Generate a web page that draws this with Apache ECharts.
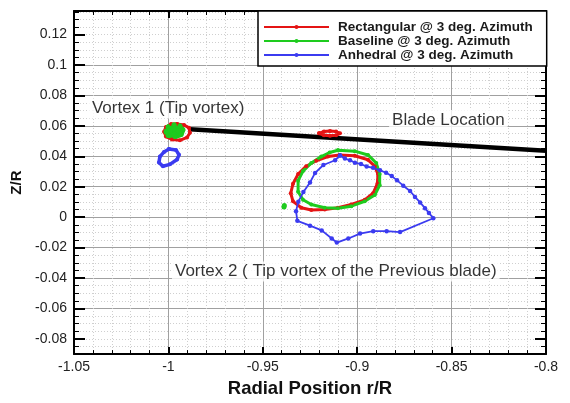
<!DOCTYPE html>
<html><head><meta charset="utf-8">
<script src="https://cdn.jsdelivr.net/npm/echarts@6/dist/echarts.min.js"></script>
<style>html,body{margin:0;padding:0;background:#fff}#c{width:570px;height:403px}</style>
</head><body><div id="c"></div>
<script>
// ---- data ----
const xTicks = [-1.05, -1, -0.95, -0.9, -0.85, -0.8];
const yTicks = [-0.08, -0.06, -0.04, -0.02, 0, 0.02, 0.04, 0.06, 0.08, 0.1, 0.12];
const seriesNames = ['Rectangular @ 3 deg. Azimuth', 'Baseline @ 3 deg. Azimuth', 'Anhedral @ 3 deg. Azimuth'];

const bladeR = [-0.9886, -0.8];
const bladeZ = [0.0578, 0.0436];

// Rectangular (red)
const rectV1R = [-0.9954, -0.9917, -0.9891, -0.9886, -0.9901, -0.9939, -0.9981, -1.0013, -1.0023, -1.0013, -0.9986, -0.9954];
const rectV1Z = [0.0612, 0.0606, 0.0587, 0.0555, 0.0524, 0.0505, 0.0511, 0.0530, 0.0562, 0.0593, 0.0612, 0.0612];
const rectBlobR = [-0.9202, -0.9176, -0.9144, -0.9112, -0.9091, -0.9112, -0.9144, -0.9176, -0.9202];
const rectBlobZ = [0.0551, 0.0563, 0.0566, 0.0563, 0.0551, 0.0538, 0.0535, 0.0538, 0.0551];
const rectV2R = [-0.9093, -0.9013, -0.8943, -0.8907, -0.8890, -0.8893, -0.8916, -0.8960, -0.9031, -0.9102, -0.9172, -0.9243, -0.9296, -0.9340, -0.9352, -0.9340, -0.9313, -0.9270, -0.9217, -0.9155, -0.9093];
const rectV2Z = [0.0409, 0.0404, 0.0377, 0.0335, 0.0283, 0.0220, 0.0157, 0.0114, 0.0083, 0.0062, 0.0051, 0.0047, 0.0062, 0.0104, 0.0157, 0.0220, 0.0283, 0.0335, 0.0371, 0.0398, 0.0409];

// Baseline (green)
const baseV1R = [-0.9970, -0.9939, -0.9923, -0.9933, -0.9965, -1.0002, -1.0013, -1.0002, -0.9970, -0.9970, -0.9949, -0.9970, -0.9992, -0.9970];
const baseV1Z = [0.0606, 0.0599, 0.0574, 0.0543, 0.0530, 0.0536, 0.0562, 0.0593, 0.0606, 0.0580, 0.0568, 0.0549, 0.0568, 0.0580];
const baseV2R = [-0.9102, -0.9013, -0.8943, -0.8899, -0.8881, -0.8881, -0.8907, -0.8960, -0.9031, -0.9102, -0.9172, -0.9243, -0.9287, -0.9313, -0.9313, -0.9287, -0.9243, -0.9190, -0.9146, -0.9102];
const baseV2Z = [0.0440, 0.0434, 0.0409, 0.0356, 0.0283, 0.0209, 0.0146, 0.0104, 0.0072, 0.0058, 0.0062, 0.0083, 0.0114, 0.0167, 0.0240, 0.0303, 0.0356, 0.0398, 0.0425, 0.0440];
const baseDotR = [-0.9388, -0.9386];
const baseDotZ = [0.0066, 0.0076];

// Anhedral (blue)
const anhV1R = [-0.9997, -0.9960, -0.9944, -0.9954, -0.9992, -1.0029, -1.0050, -1.0045, -1.0023, -0.9997];
const anhV1Z = [0.0448, 0.0442, 0.0410, 0.0379, 0.0347, 0.0335, 0.0360, 0.0398, 0.0429, 0.0448];
const anhV2R = [-0.9091, -0.9117, -0.9179, -0.9223, -0.9250, -0.9285, -0.9312, -0.9324, -0.9317, -0.9250, -0.9188, -0.9135, -0.9108, -0.9047, -0.8985, -0.8915, -0.8844, -0.8773, -0.8597, -0.8620, -0.8641, -0.8667, -0.8694, -0.8720, -0.8756, -0.8789, -0.8817, -0.8847, -0.8879, -0.8916, -0.8950, -0.8980, -0.9012, -0.9038, -0.9065, -0.9091];
const anhV2Z = [0.0406, 0.0374, 0.0343, 0.0291, 0.0228, 0.0165, 0.0102, 0.0039, -0.0024, -0.0056, -0.0087, -0.0140, -0.0167, -0.0140, -0.0108, -0.0092, -0.0092, -0.0098, -0.0007, 0.0028, 0.0059, 0.0097, 0.0133, 0.0172, 0.0207, 0.0242, 0.0270, 0.0292, 0.0308, 0.0324, 0.0333, 0.0349, 0.0358, 0.0374, 0.0385, 0.0406];

// annotations
const noteText = ['Vortex 1 (Tip vortex)', 'Blade Location', 'Vortex 2 ( Tip vortex of the Previous blade)'];
const noteR = [-1.0421, -0.8831, -0.9981];
const noteZ = [0.0714, 0.0638, -0.0357];

// ---- chart ----
const FONT = 'Liberation Sans';
const colors = ['#e41414', '#1ecb1e', '#3b3bf0'];
const zip = (a, b) => a.map((v, i) => [v, b[i]]);
const fmt = v => { const r = Math.round(v * 1000) / 1000; return r === 0 ? '0' : String(r); };
const X0 = xTicks[0], X1 = xTicks[xTicks.length - 1];
const Y0 = -0.09, Y1 = 0.1355;

function curve(idx, r, z, lw, ss) {
  return {
    type: 'line', name: seriesNames[idx], data: zip(r, z),
    symbol: 'circle', symbolSize: ss, showSymbol: true,
    lineStyle: { color: colors[idx], width: lw }, itemStyle: { color: colors[idx] },
    z: 3, silent: true
  };
}

const majorGrid = { show: true, lineStyle: { color: '#a0a0a0', width: 1, type: 'solid' } };
const minorGrid = { show: true, lineStyle: { color: '#cfcfcf', width: 1, type: [1, 2] } };
const tickStyle = { color: '#000', width: 2 };

const chart = echarts.init(document.getElementById('c'), null, { renderer: 'canvas' });
chart.setOption({
  animation: false,
  backgroundColor: '#fff',
  grid: { left: 74, right: 24, top: 11, bottom: 34, show: false },
  legend: {
    data: seriesNames, orient: 'vertical', left: 258, top: 11,
    padding: [9, 14, 4, 5], itemWidth: 65, itemHeight: 5, itemGap: 0,
    backgroundColor: '#fff', borderColor: '#000', borderWidth: 1.5,
    lineStyle: { width: 2 },
    textStyle: { fontFamily: FONT, fontSize: 13.5, fontWeight: 'bold', color: '#1a1a1a', lineHeight: 14, padding: [0, 0, 0, 4] }
  },
  xAxis: [
    {
      type: 'value', position: 'bottom', min: X0, max: X1, interval: 0.05, z: 1,
      name: 'Radial Position r/R', nameLocation: 'middle', nameGap: 16,
      nameTextStyle: { fontFamily: FONT, fontSize: 18.5, fontWeight: 'bold', color: '#111' },
      axisLine: { show: true, onZero: false, lineStyle: { color: '#000', width: 2 } },
      axisTick: { show: true, inside: true, length: 7, lineStyle: tickStyle },
      minorTick: { show: true, splitNumber: 5, length: 4, lineStyle: { color: '#000', width: 1 } },
      axisLabel: { fontFamily: FONT, fontSize: 14, color: '#222', margin: 6, formatter: fmt },
      splitLine: Object.assign({ showMinLine: false, showMaxLine: false }, majorGrid),
      minorSplitLine: minorGrid
    },
    {
      type: 'value', position: 'top', min: X0, max: X1, interval: 0.05, z: 1,
      axisLine: { show: true, onZero: false, lineStyle: { color: '#000', width: 2 } },
      axisTick: { show: true, inside: true, length: 7, lineStyle: tickStyle },
      minorTick: { show: true, splitNumber: 5, length: 4, lineStyle: { color: '#000', width: 1 } },
      axisLabel: { show: false }, splitLine: { show: false }
    }
  ],
  yAxis: [
    {
      type: 'value', position: 'left', min: Y0, max: Y1, z: 1,
      name: 'Z/R', nameLocation: 'middle', nameGap: 46, nameRotate: 90,
      nameTextStyle: { fontFamily: FONT, fontSize: 15, fontWeight: 'bold', color: '#111' },
      axisLine: { show: true, onZero: false, lineStyle: { color: '#000', width: 2 } },
      axisTick: { show: true, inside: true, length: 11, customValues: yTicks, lineStyle: tickStyle },
      axisLabel: { fontFamily: FONT, fontSize: 14, color: '#222', margin: 7, customValues: yTicks, formatter: fmt },
      splitLine: Object.assign({ showMinLine: false, showMaxLine: false }, majorGrid)
    },
    {
      type: 'value', position: 'left', min: Y0, max: Y1, interval: 0.005, z: 0,
      axisLine: { show: false },
      axisTick: { show: true, inside: true, length: 5, lineStyle: { color: '#000', width: 1 } },
      axisLabel: { show: false },
      splitLine: Object.assign({ showMinLine: false, showMaxLine: false }, minorGrid)
    },
    {
      type: 'value', position: 'right', min: Y0, max: Y1, z: 1,
      axisLine: { show: true, onZero: false, lineStyle: { color: '#000', width: 2 } },
      axisTick: { show: true, inside: true, length: 11, customValues: yTicks, lineStyle: tickStyle },
      axisLabel: { show: false, customValues: yTicks }, splitLine: { show: false }
    },
    {
      type: 'value', position: 'right', min: Y0, max: Y1, interval: 0.005, z: 0,
      axisLine: { show: false },
      axisTick: { show: true, inside: true, length: 5, lineStyle: { color: '#000', width: 1 } },
      axisLabel: { show: false }, splitLine: { show: false }
    }
  ],
  series: [
    {
      type: 'line', name: 'blade', data: zip(bladeR, bladeZ), symbol: 'none',
      lineStyle: { color: '#000', width: 4.5 }, z: 2, silent: true
    },
    curve(0, rectV1R, rectV1Z, 3, 4),
    curve(0, rectBlobR, rectBlobZ, 3, 4),
    curve(0, rectV2R, rectV2Z, 3, 4),
    curve(1, baseV1R, baseV1Z, 5, 5),
    curve(1, baseV2R, baseV2Z, 3, 4),
    curve(1, baseDotR, baseDotZ, 4, 5),
    curve(2, anhV1R, anhV1Z, 3.5, 4),
    curve(2, anhV2R, anhV2Z, 1.8, 4.5),
    {
      type: 'scatter', name: 'notes', data: zip(noteR, noteZ), symbolSize: 0, silent: true, z: 5,
      itemStyle: { color: '#000' },
      label: {
        show: true, position: 'right', distance: 0,
        formatter: p => noteText[p.dataIndex],
        fontFamily: FONT, fontSize: 17, color: '#000',
        backgroundColor: '#fff', padding: [1, 3, 2, 3]
      }
    }
  ]
});
</script></body></html>
